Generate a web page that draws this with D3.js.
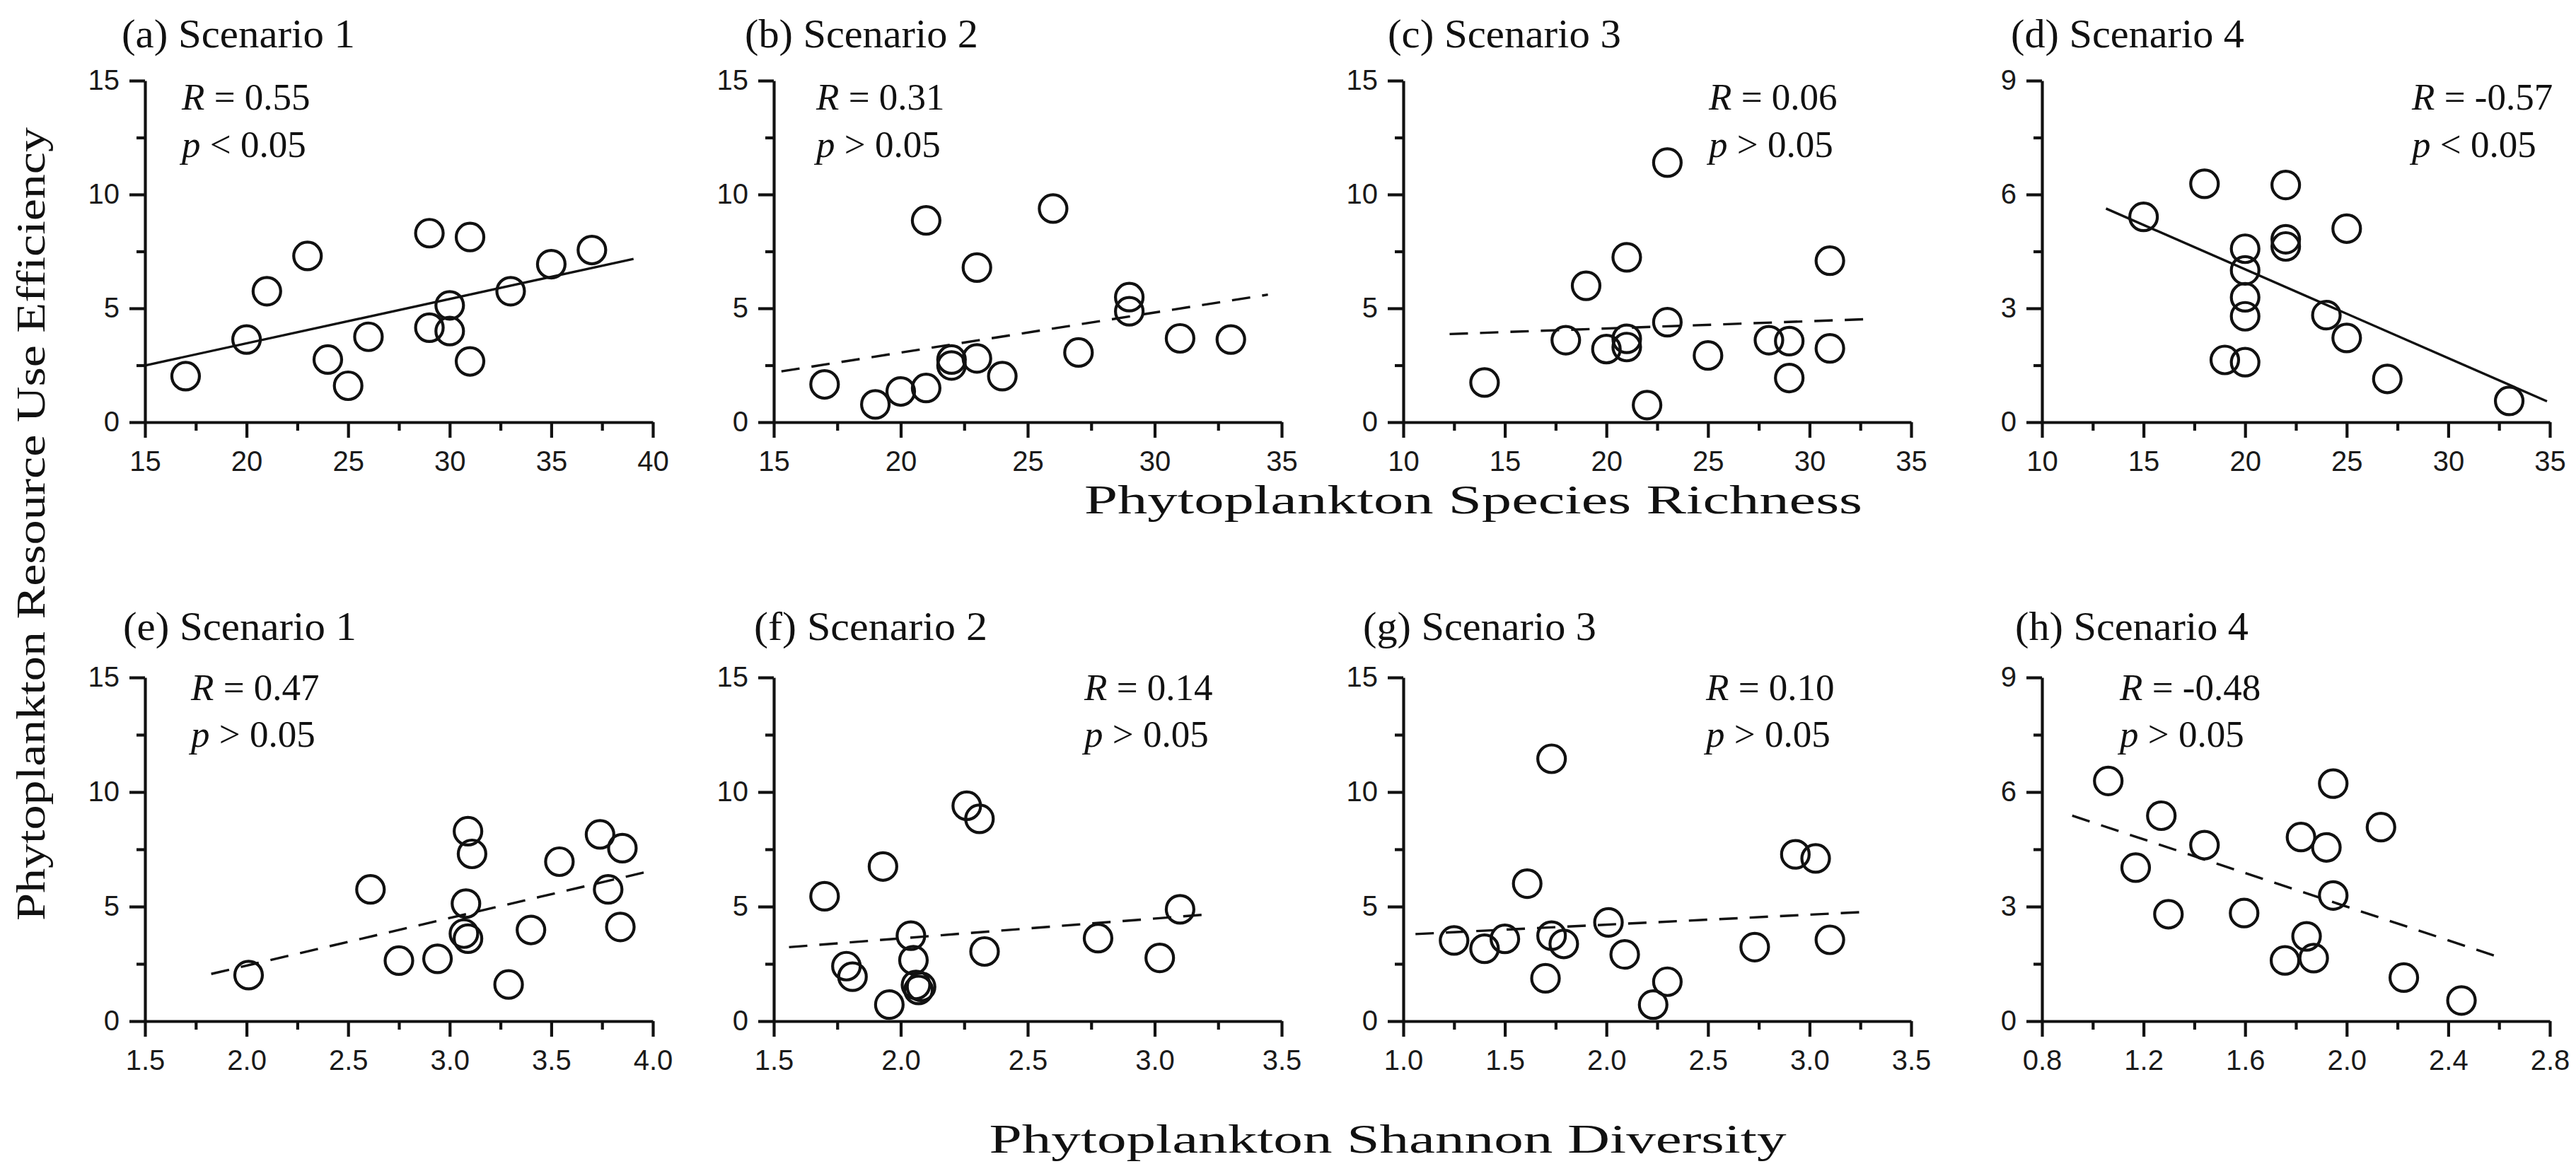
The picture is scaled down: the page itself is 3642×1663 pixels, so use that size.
<!DOCTYPE html>
<html><head><meta charset="utf-8">
<script src="https://cdn.jsdelivr.net/npm/d3@7"></script>
<style>body{margin:0;background:#fff} svg{display:block;background:#fff}</style>
</head><body>
<svg id="chart" width="3642" height="1663"></svg>
<script>
// ---------- DATA ----------
const panelTitles = ["(a) Scenario 1","(b) Scenario 2","(c) Scenario 3","(d) Scenario 4",
                     "(e) Scenario 1","(f) Scenario 2","(g) Scenario 3","(h) Scenario 4"];
const yAxisTitle = "Phytoplankton Resource Use Efficiency";
const xAxisTitleTop = "Phytoplankton Species Richness";
const xAxisTitleBottom = "Phytoplankton Shannon Diversity";

// Species richness (top row)
const richnessA = [17,20,21,23,24,25,26,29,29,30,30,31,31,33,35,37];
const rueA      = [2.02,3.63,5.75,7.3,2.75,1.6,3.75,8.3,4.15,5.13,4.0,8.13,2.67,5.75,6.94,7.56];
const richnessB = [17,19,20,21,21,22,22,23,23,24,26,27,29,29,31,33];
const rueB      = [1.66,0.78,1.35,8.86,1.5,2.49,2.75,6.79,2.8,2.02,9.38,3.06,5.49,4.87,3.68,3.63];
const richnessC = [14,18,19,20,21,21,21,22,23,23,25,28,29,29,31,31];
const rueC      = [1.74,3.6,5.99,3.21,7.24,3.66,3.3,0.75,11.4,4.39,2.93,3.6,3.56,1.94,7.09,3.24];
const richnessD = [15,18,19,20,20,20,20,20,22,22,22,24,25,25,27,33];
const rueD      = [5.41,6.28,1.64,4.57,4.0,3.29,2.79,1.58,6.25,4.82,4.63,2.82,5.1,2.22,1.14,0.56];
// Shannon diversity (bottom row)
const shannonE = [2.01,2.61,2.75,2.94,3.09,3.11,3.08,3.07,3.09,3.29,3.40,3.54,3.74,3.85,3.78,3.84];
const rueE     = [2.01,5.75,2.64,2.72,8.29,7.30,5.13,3.82,3.6,1.6,3.98,6.96,8.15,7.55,5.75,4.11];
const shannonF = [1.70,1.786,1.81,1.93,1.955,2.04,2.05,2.06,2.07,2.08,2.26,2.31,2.33,2.777,3.02,3.10];
const rueF     = [5.45,2.40,1.94,6.75,0.72,3.73,2.66,1.58,1.36,1.5,9.40,8.83,3.04,3.62,2.76,4.88];
const shannonG = [1.25,1.40,1.50,1.61,1.70,1.73,1.73,1.79,2.01,2.09,2.23,2.30,2.73,2.93,3.03,3.10];
const rueG     = [3.52,3.16,3.59,6.0,1.87,11.45,3.73,3.37,4.31,2.91,0.72,1.72,3.23,7.28,7.1,3.55];
const shannonH = [1.061,1.169,1.27,1.298,1.44,1.596,1.757,1.82,1.842,1.87,1.92,1.947,1.947,2.135,2.225,2.452];
const rueH     = [6.29,4.02,5.38,2.80,4.61,2.83,1.59,4.82,2.22,1.65,4.55,6.22,3.29,5.08,1.14,0.54];

// Regression line end points (x, y)
const fitX = [[15,39.05],[15.3,34.46],[12.28,32.7],[13.15,34.86],[1.826,4.01],[1.56,3.21],[1.06,3.28],[0.919,2.58]];
const fitY = [[2.49,7.17],[2.23,5.6],[3.87,4.52],[5.63,0.55],[2.06,6.6],[3.23,4.66],[3.80,4.77],[5.38,1.72]];
const fitDashed = [false,true,true,false,true,true,true,true];

const rValues = ["0.55","0.31","0.06","-0.57","0.47","0.14","0.10","-0.48"];
const pSigns  = ["<",">",">","<",">",">",">",">"];

// Tick labels
const xTicksA = [15,20,25,30,35,40];
const xTicksB = [15,20,25,30,35];
const xTicksC = [10,15,20,25,30,35];
const xTicksD = [10,15,20,25,30,35];
const xTicksE = [1.5,2.0,2.5,3.0,3.5,4.0];
const xTicksF = [1.5,2.0,2.5,3.0,3.5];
const xTicksG = [1.0,1.5,2.0,2.5,3.0,3.5];
const xTicksH = [0.8,1.2,1.6,2.0,2.4,2.8];
const yTicks15 = [0,5,10,15];
const yTicks9  = [0,3,6,9];

// ---------- LAYOUT ----------
const colLeft = [205,1094,1984,2887];
const plotWidth = 718;
const rowTop = [114,958];
const rowBottom = [597,1444];
const titleBase = [67,905];
const titleDx = [-33,-41,-22,-44,-31,-28,-57,-38];
const statDx  = [52,60,432,523,65,439,428,110];
const rBase = [155,990];
const pBase = [222,1056];

const xs = [richnessA,richnessB,richnessC,richnessD,shannonE,shannonF,shannonG,shannonH];
const ys = [rueA,rueB,rueC,rueD,rueE,rueF,rueG,rueH];
const xTickSets = [xTicksA,xTicksB,xTicksC,xTicksD,xTicksE,xTicksF,xTicksG,xTicksH];
const yTickSets = [yTicks15,yTicks15,yTicks15,yTicks9,yTicks15,yTicks15,yTicks15,yTicks9];

const serif = "'Liberation Serif','Times New Roman',serif";
const sans = "'Liberation Sans',Arial,sans-serif";
const ink = "#111";

const svg = d3.select("#chart");

function minors(t){ const m=[]; for(let k=0;k<t.length-1;k++) m.push((t[k]+t[k+1])/2); return m; }

for (let i=0;i<8;i++){
  const col=i%4, row=Math.floor(i/4);
  const left=colLeft[col], right=left+plotWidth, top=rowTop[row], bottom=rowBottom[row];
  const xt=xTickSets[i], yt=yTickSets[i];
  const x=d3.scaleLinear().domain([xt[0],xt[xt.length-1]]).range([left,right]);
  const y=d3.scaleLinear().domain([yt[0],yt[yt.length-1]]).range([bottom,top]);
  const g=svg.append("g");
  const fmtX = row===0 ? d3.format("d") : d3.format(".1f");

  // minor ticks
  g.append("g").attr("transform",`translate(0,${bottom})`)
    .call(d3.axisBottom(x).tickValues(minors(xt)).tickSize(12).tickSizeOuter(0).tickFormat(""))
    .call(a=>a.select(".domain").remove());
  g.append("g").attr("transform",`translate(${left},0)`)
    .call(d3.axisLeft(y).tickValues(minors(yt)).tickSize(12).tickSizeOuter(0).tickFormat(""))
    .call(a=>a.select(".domain").remove());
  // major axes
  g.append("g").attr("transform",`translate(0,${bottom})`)
    .call(d3.axisBottom(x).tickValues(xt).tickSize(22).tickSizeOuter(0).tickPadding(19).tickFormat(fmtX));
  g.append("g").attr("transform",`translate(${left},0)`)
    .call(d3.axisLeft(y).tickValues(yt).tickSize(22).tickSizeOuter(0).tickPadding(14).tickFormat(d3.format("d")));

  g.selectAll(".domain, .tick line").attr("stroke",ink).attr("stroke-width",4.2);
  g.selectAll(".tick text").attr("fill","#1a1a1a").style("font-family",sans).style("font-size","40px");

  // regression line
  const ln = g.append("line")
    .attr("x1",x(fitX[i][0])).attr("y1",y(fitY[i][0]))
    .attr("x2",x(fitX[i][1])).attr("y2",y(fitY[i][1]))
    .attr("stroke",ink).attr("stroke-width",3.4);
  if (fitDashed[i]) ln.attr("stroke-dasharray","26,17");

  // points
  g.selectAll("circle.pt").data(d3.zip(xs[i],ys[i])).join("circle")
    .attr("class","pt").attr("cx",d=>x(d[0])).attr("cy",d=>y(d[1])).attr("r",19.5)
    .attr("fill","none").attr("stroke",ink).attr("stroke-width",4.2);

  // panel title
  g.append("text").attr("x",left+titleDx[i]).attr("y",titleBase[row])
    .attr("textLength",330).attr("lengthAdjust","spacingAndGlyphs")
    .style("font-family",serif).style("font-size","56px").attr("fill",ink)
    .text(panelTitles[i]);

  // statistics
  const sx = left+statDx[i];
  const t1 = g.append("text").attr("x",sx).attr("y",rBase[row])
    .style("font-family",serif).style("font-size","53px").attr("fill",ink);
  t1.append("tspan").style("font-style","italic").text("R");
  t1.append("tspan").text(" = "+rValues[i]);
  const t2 = g.append("text").attr("x",sx).attr("y",pBase[row])
    .style("font-family",serif).style("font-size","53px").attr("fill",ink);
  t2.append("tspan").style("font-style","italic").text("p");
  t2.append("tspan").text(" "+pSigns[i]+" 0.05");
}

// axis titles
svg.append("text").attr("transform","translate(63,741) rotate(-90)")
  .attr("text-anchor","middle").attr("textLength",1122).attr("lengthAdjust","spacingAndGlyphs")
  .style("font-family",serif).style("font-size","58px").attr("fill",ink).text(yAxisTitle);
svg.append("text").attr("x",2083).attr("y",726)
  .attr("text-anchor","middle").attr("textLength",1100).attr("lengthAdjust","spacingAndGlyphs")
  .style("font-family",serif).style("font-size","56px").attr("fill",ink).text(xAxisTitleTop);
svg.append("text").attr("x",1962).attr("y",1630)
  .attr("text-anchor","middle").attr("textLength",1127).attr("lengthAdjust","spacingAndGlyphs")
  .style("font-family",serif).style("font-size","58px").attr("fill",ink).text(xAxisTitleBottom);
</script>
</body></html>
